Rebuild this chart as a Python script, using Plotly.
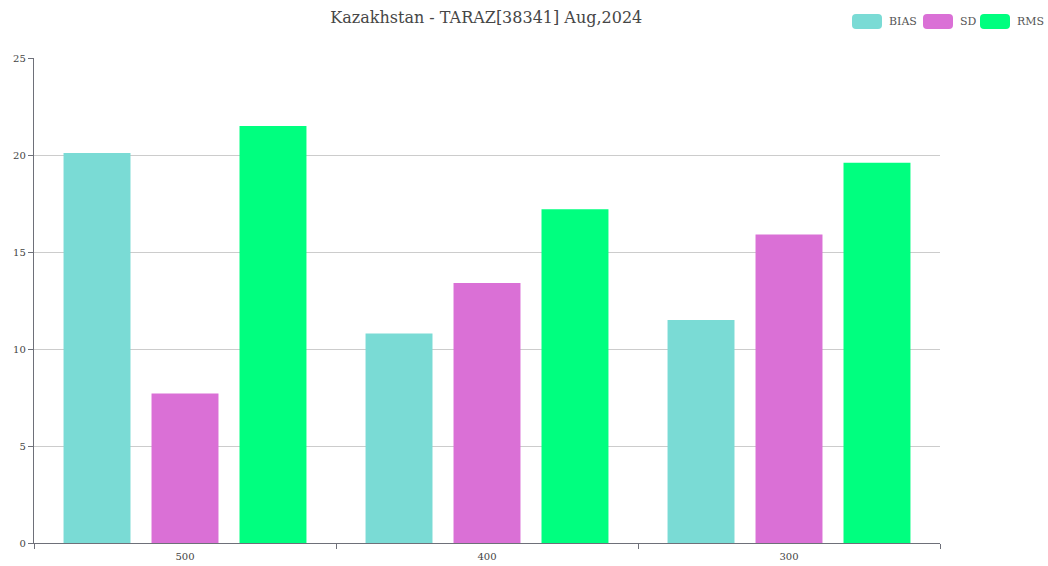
import plotly.graph_objects as go

levels = ["500", "400", "300"]
bias = [20.1, 10.8, 11.5]
sd = [7.7, 13.4, 15.9]
rms = [21.5, 17.2, 19.6]
series_names = ["BIAS", "SD", "RMS"]
series_colors = ["#7adbd5", "#da70d6", "#00ff7f"]
title_text = "Kazakhstan - TARAZ[38341] Aug,2024"

FONT = "DejaVu Serif"
W, H = 1048, 566
ML, MR, MT, MB = 34, 108, 58, 23
PW, PH = W - ML - MR, H - MT - MB


def px(x):
    return (x - ML) / PW


def py(y):
    return (H - MB - y) / PH


fig = go.Figure()
for name, vals, color in zip(series_names, [bias, sd, rms], series_colors):
    fig.add_trace(go.Bar(x=levels, y=vals, name=name, marker_color=color,
                         marker_line_width=0, showlegend=False))

# custom legend: rounded swatches with labels, top right
legend_x = [852, 923, 980]
for name, color, x0 in zip(series_names, series_colors, legend_x):
    w, h, r = 30, 15, 4
    y0 = 14
    pts = lambda a, b: f"{px(a)},{py(b)}"
    path = (f"M{pts(x0 + r, y0)} L{pts(x0 + w - r, y0)} Q{pts(x0 + w, y0)} {pts(x0 + w, y0 + r)} "
            f"L{pts(x0 + w, y0 + h - r)} Q{pts(x0 + w, y0 + h)} {pts(x0 + w - r, y0 + h)} "
            f"L{pts(x0 + r, y0 + h)} Q{pts(x0, y0 + h)} {pts(x0, y0 + h - r)} "
            f"L{pts(x0, y0 + r)} Q{pts(x0, y0)} {pts(x0 + r, y0)} Z")
    fig.add_shape(type="path", xref="paper", yref="paper", path=path,
                  fillcolor=color, line_width=0, layer="above")
    fig.add_annotation(xref="paper", yref="paper", x=px(x0 + w + 5), y=py(y0 + h / 2),
                       text=name, showarrow=False, xanchor="left", yanchor="middle",
                       font=dict(family=FONT, size=11, color="#555"))

fig.update_layout(
    width=W, height=H,
    margin=dict(l=ML, r=MR, t=MT, b=MB, autoexpand=False),
    paper_bgcolor="white", plot_bgcolor="white",
    barmode="group", bargap=0.126, bargroupgap=0.239,
    font=dict(family=FONT, color="#444", size=10),
    title=dict(text=title_text, x=0.464, xanchor="center", y=0.97, yanchor="middle",
               font=dict(family=FONT, size=16, color="#464646")),
    showlegend=False,
    xaxis=dict(showline=True, linecolor="#6e7079", linewidth=1.3, ticks="outside",
               ticklen=5, tickcolor="#6e7079", tickson="boundaries", automargin=False,
               ticklabelstandoff=4,
               tickfont=dict(size=10, color="#444"), showgrid=False, fixedrange=True),
    yaxis=dict(range=[0, 25], dtick=5, showline=True, linecolor="#6e7079", linewidth=1.3,
               ticks="outside", ticklen=5, tickcolor="#6e7079", automargin=False,
               gridcolor="#cccccc", gridwidth=1, zeroline=False,
               tickfont=dict(size=10, color="#444")),
)

fig.write_html("out.html")
